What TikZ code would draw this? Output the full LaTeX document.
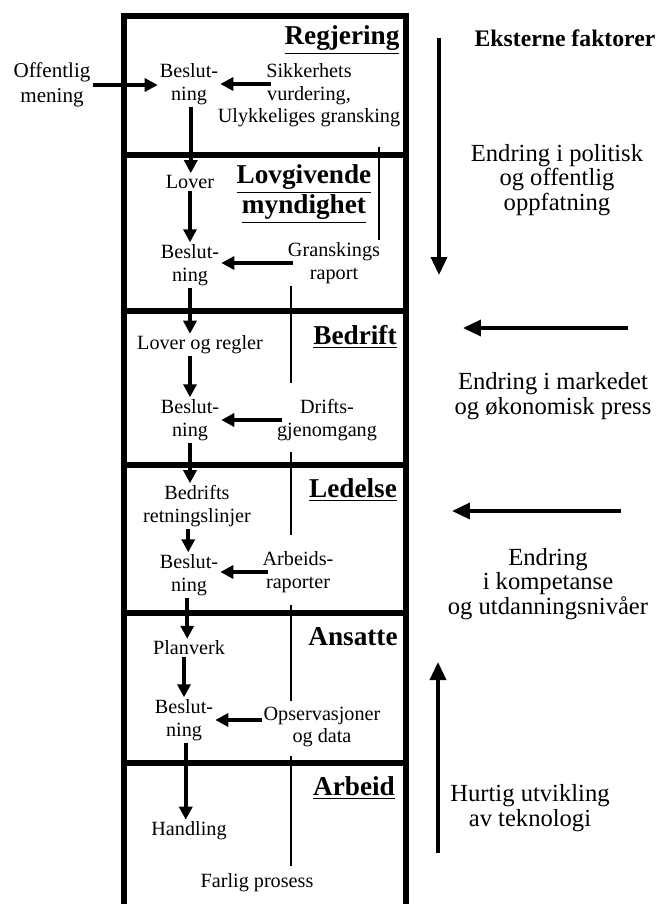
\documentclass[tikz,border=0pt]{standalone}
\usepackage{fontspec}
\setmainfont{Liberation Serif}
\usepackage{tikz}
\usetikzlibrary{arrows.meta, positioning}
\tikzstyle{txt} = [align=center, inner sep=1pt, font=\fontsize{11.5}{13}\selectfont]
\tikzstyle{level} = [align=center, inner sep=1pt, font=\fontsize{15.5}{16}\selectfont\bfseries]
\tikzstyle{ext} = [align=center, inner sep=1pt, font=\fontsize{14}{14}\selectfont]
\tikzstyle{frame} = [line width=3.6pt]
\tikzstyle{feed} = [line width=1.6pt]
\tikzstyle{arrow} = [line width=2pt, -{Triangle[length=0.26cm, width=0.26cm]}]
\tikzstyle{bigarrow} = [line width=2pt, -{Triangle[length=0.36cm, width=0.32cm]}]

\begin{document}
\begin{tikzpicture}[x=0.02cm, y=-0.02cm]
                                \useasboundingbox (0,0) rectangle (662,904);
                                % the levels
                                \draw [frame] (124,904) -- (124,16) -- (406,16) -- (406,904);
                                \draw [frame] (124,155) -- (406,155);
                                \draw [frame] (124,311) -- (406,311);
                                \draw [frame] (124,465) -- (406,465);
                                \draw [frame] (124,613) -- (406,613);
                                \draw [frame] (124,763) -- (406,763);
                                \coordinate (rc) at (379,0);
                                \coordinate (mc) at (291,0);
                                % Regjering
                                \node (reg) [level] at (342,40) {\underline{Regjering}};
                                \node (off) [txt, font=\fontsize{12}{14}\selectfont] at (52,85) {Offentlig\\mening};
                                \node (bes1) [txt] at (189,84) {Beslut-\\ning};
                                \node (sik) [txt] at (309,84) {Sikkerhets\\vurdering,};
                                \node (uly) [txt] at (309,118) {Ulykkeliges gransking};
                                % Lovgivende myndighet
                                \node (lovg) [level] at (304,194) {\underline{Lovgivende}\\\underline{myndighet}};
                                \node (lov1) [txt] at (190,182) {Lover};
                                \node (bes2) [txt] at (190,265) {Beslut-\\ning};
                                \node (gr) [txt] at (334,263) {Granskings\\raport};
                                % Bedrift
                                \node (bed) [level] at (355,337) {\underline{Bedrift}};
                                \node (lor) [txt] at (200,345) {Lover og regler};
                                \node (bes3) [txt] at (190,420) {Beslut-\\ning};
                                \node (dr) [txt] at (327,420) {Drifts-\\gjenomgang};
                                % Ledelse
                                \node (led) [level] at (353,490) {\underline{Ledelse}};
                                \node (bret) [txt] at (197,506) {Bedrifts\\retningslinjer};
                                \node (bes4) [txt] at (189,575) {Beslut-\\ning};
                                \node (arb) [txt] at (298,572) {Arbeids-\\raporter};
                                % Ansatte
                                \node (ans) [level] at (353,637) {Ansatte};
                                \node (plan) [txt] at (189,648) {Planverk};
                                \node (bes5) [txt] at (184,720) {Beslut-\\ning};
                                \node (ops) [txt] at (322,727) {Opservasjoner\\og data};
                                % Arbeid
                                \node (arbeid) [level] at (354,788) {\underline{Arbeid}};
                                \node (hand) [txt] at (189,831) {Handling};
                                \node (far) [txt] at (257,883) {Farlig prosess};
                                % down the levels
                                \draw [arrow] ([xshift=1pt]bes1.south) -- ([xshift=1pt]bes1.south |- lov1.north);
                                \draw [arrow] (lov1.south) -- (lov1.south |- bes2.north);
                                \draw [arrow] (bes2.south) -- (bes2.south |- lor.north);
                                \draw [arrow] (bes2.south |- lor.south) -- (bes2.south |- bes3.north);
                                \draw [arrow] (bes3.south) -- (bes3.south |- bret.north);
                                \draw [arrow] ([xshift=-1pt]bes3.south |- bret.south) -- ([xshift=-1pt]bes3.south |- bes4.north);
                                \draw [arrow] ([xshift=-1pt]bes4.south) -- ([xshift=-1pt]bes4.south |- plan.north);
                                \draw [arrow] (bes5.north |- plan.south) -- (bes5.north);
                                \draw [arrow] ([xshift=1pt]bes5.south) -- ([xshift=1pt]bes5.south |- hand.north);
                                % into each decision
                                \draw [arrow] (off.east) -- (off.east -| bes1.west);
                                \draw [arrow, shorten <=-4pt] (sik.west) -- (sik.west -| bes1.east);
                                \draw [arrow, shorten <=-4pt] (gr.west) -- (gr.west -| bes2.east);
                                \draw [arrow, shorten <=-4pt] (dr.west) -- (dr.west -| bes3.east);
                                \draw [arrow, shorten <=-4pt] (arb.west) -- (arb.west -| bes4.east);
                                \draw [arrow] ([yshift=4pt]ops.west) -- ([yshift=4pt]ops.west -| bes5.east);
                                % up the levels
                                \draw [feed, shorten <=10pt] (uly.south -| rc) -- (gr.north -| rc);
                                \draw [feed, shorten >=8pt] (gr.south -| mc) -- (dr.north -| mc);
                                \draw [feed, shorten <=5pt, shorten >=8pt] (dr.south -| mc) -- (arb.north -| mc);
                                \draw [feed, shorten <=6pt, shorten >=2pt] (arb.south -| mc) -- (ops.north -| mc);
                                \draw [feed, shorten <=4pt, shorten >=3pt] (ops.south -| mc) -- (far.north -| mc);
                                % external factors
                                \node (ekst) [ext, font=\fontsize{13.5}{14}\selectfont\bfseries] at (565,38) {Eksterne faktorer};
                                \coordinate (pol1) at (439,38);
                                \coordinate (pol2) at (439,275);
                                \draw [bigarrow] (pol1) -- (pol2);
                                \node (pol) [ext] at (557,180) {Endring i politisk\\og offentlig\\oppfatning};
                                \coordinate (mark1) at (628,328);
                                \coordinate (mark2) at (463,328);
                                \draw [bigarrow] (mark1) -- (mark2);
                                \node (mark) [ext] at (553,396) {Endring i markedet\\og økonomisk press};
                                \coordinate (komp1) at (621,511);
                                \coordinate (komp2) at (452,511);
                                \draw [bigarrow] (komp1) -- (komp2);
                                \node (komp) [ext] at (548,584) {Endring\\i kompetanse\\og utdanningsnivåer};
                                \coordinate (tek1) at (438,853);
                                \coordinate (tek2) at (438,662);
                                \draw [bigarrow] (tek1) -- (tek2);
                                \node (tek) [ext] at (530,808) {Hurtig utvikling\\av teknologi};
                            \end{tikzpicture}
\end{document}
